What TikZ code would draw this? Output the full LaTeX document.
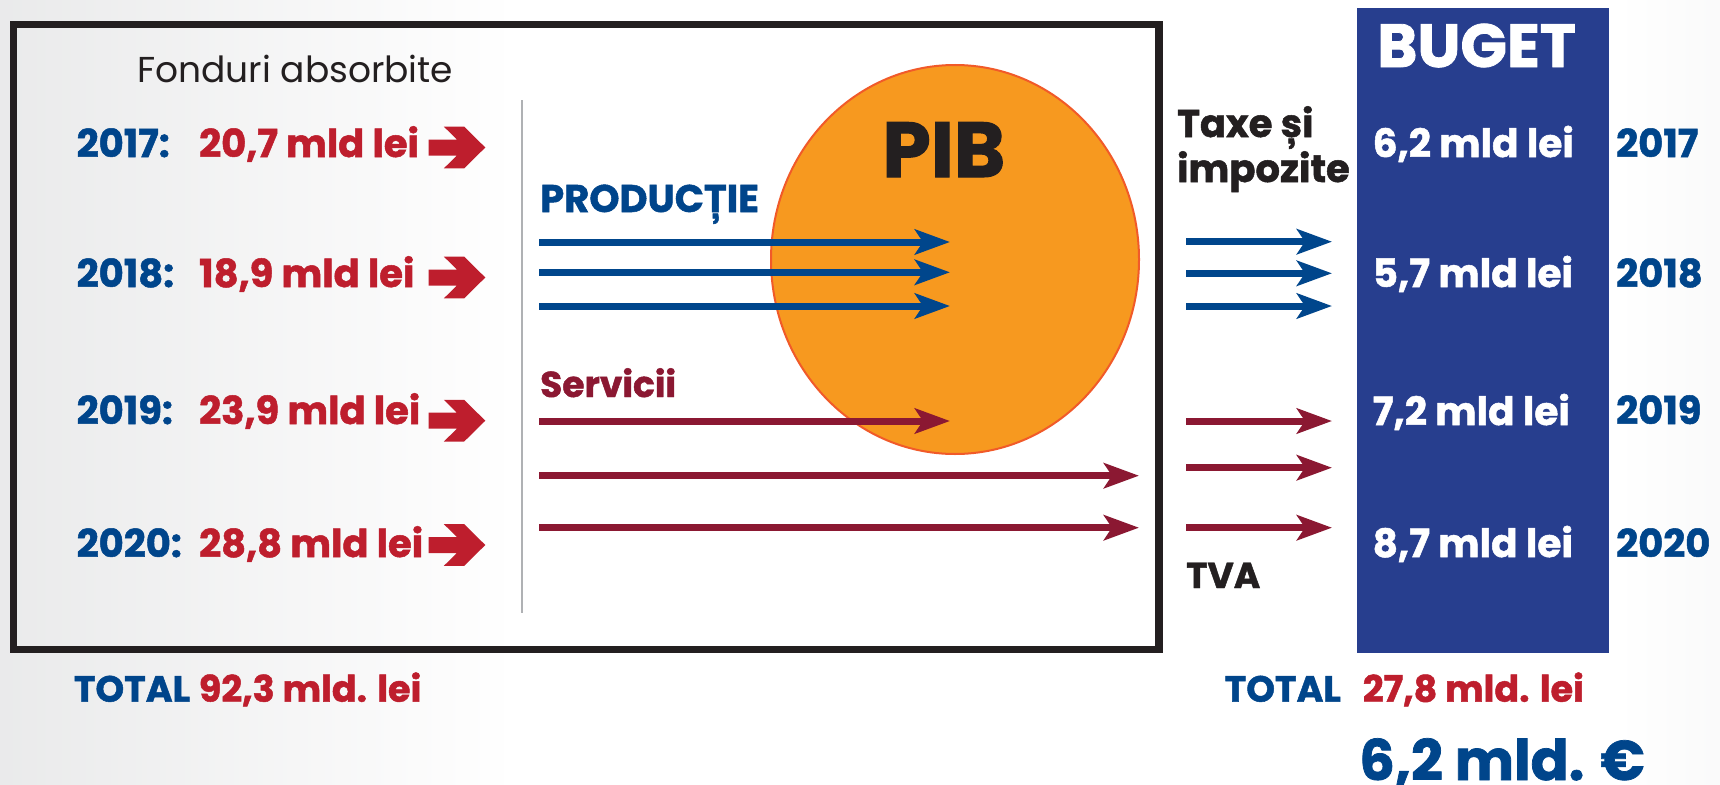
\documentclass[tikz,border=0pt]{standalone}
\usepackage{fontspec}
\newfontfamily\pop{Poppins}[BoldFeatures={FakeBold=1.3}]
\usetikzlibrary{arrows.meta,shapes.geometric}
\definecolor{blueT}{RGB}{0,69,139}
\definecolor{blueA}{RGB}{0,70,140}
\definecolor{boxB}{RGB}{39,62,142}
\definecolor{redT}{RGB}{190,30,45}
\definecolor{maroon}{RGB}{139,24,50}
\definecolor{darkT}{RGB}{35,31,32}
\definecolor{orangeF}{RGB}{247,153,31}
\definecolor{orangeD}{RGB}{241,90,41}
\definecolor{bgL}{RGB}{198,199,201}
\definecolor{bgR}{RGB}{205,206,208}
\definecolor{sepG}{RGB}{175,177,180}
\pgfdeclarehorizontalshading{bgshade}{100bp}{color(0bp)=(bgL); color(40bp)=(white); color(72bp)=(white); color(100bp)=(bgR)}
\tikzset{
  txt/.style={inner sep=0pt, anchor=base west},
  boldf/.style={font=\pop\bfseries\fontsize{#1}{#1}\selectfont},
  yrL/.style={txt, text=blueT, boldf=38.5},
  valL/.style={txt, text=redT, boldf=38.5},
  valW/.style={txt, text=white, boldf=39},
  totB/.style={txt, text=blueT, boldf=36.5},
  totR/.style={txt, text=redT, boldf=36.5},
  barB/.style={draw=blueA, line width=7pt, -{Stealth[length=35pt,width=25pt,inset=8pt]}},
  barM/.style={draw=maroon, line width=7pt, -{Stealth[length=35pt,width=25pt,inset=8pt]}},
  chev/.pic={\fill[redT] (0,-8) -- (28.3,-8) -- (15.3,-20.8) -- (35.6,-20.8) -- (56.7,0) -- (35.6,20.8) -- (15.3,20.8) -- (28.3,8) -- (0,8) -- cycle;}
}
\begin{document}
\begin{tikzpicture}[x=1pt,y=-1pt]
\useasboundingbox (0,0) rectangle (1720,784);
\shade[shading=bgshade] (0,0) rectangle (1720,784);

% blue budget column
\fill[boxB] (1357,8.3) rectangle (1608.7,652.7);

% frame
\draw[darkT, line width=7.5pt] (13.5,24.5) rectangle (1159,649.7);

% separator
\coordinate (vt) at (522,100);
\coordinate (vb) at (522,613);
\draw[sepG, line width=2pt] (vt) -- (vb);

% PIB ellipse
\node[ellipse, draw=orangeD, line width=2pt, fill=orangeF, minimum width=368pt, minimum height=389pt, inner sep=0pt] (pib) at (955,259.5) {};
\node[txt, text=darkT, font=\pop\bfseries\addfontfeature{FakeBold=2.5}\fontsize{78}{78}\selectfont] (pibt) at (882,177) {PIB};

% left column
\node[txt, text=darkT, font=\pop\fontsize{36}{36}\selectfont] (fa) at (137,82) {Fonduri absorbite};
\node[yrL] (l17) at (76.5,157) {2017:};
\node[yrL] (l18) at (76.5,287) {2018:};
\node[yrL] (l19) at (76.5,424) {2019:};
\node[yrL] (l20) at (76.5,557) {2020:};
\node[valL] (v17) at (199,157) {20,7 mld lei};
\node[valL] (v18) at (199,287) {18,9 mld lei};
\node[valL] (v19) at (199,424) {23,9 mld lei};
\node[valL] (v20) at (199,557) {28,8 mld lei};
\pic at (428.6,147.5) {chev};
\pic at (428.6,277.5) {chev};
\pic at (428.6,420.7) {chev};
\pic at (428.6,545) {chev};

% middle
\node[txt, text=blueT, boldf=38.5] (prod) at (540,212) {PRODUCȚIE};
\node[txt, text=maroon, boldf=36] (serv) at (540,397) {Servicii};
\coordinate (pa1) at (539,242); \coordinate (pb1) at (950,242);
\coordinate (pa2) at (539,272.3); \coordinate (pb2) at (950,272.3);
\coordinate (pa3) at (539,306); \coordinate (pb3) at (950,306);
\draw[barB] (pa1) -- (pb1);
\draw[barB] (pa2) -- (pb2);
\draw[barB] (pa3) -- (pb3);
\coordinate (sa1) at (539,421); \coordinate (sb1) at (950,421);
\coordinate (sa2) at (539,475.7); \coordinate (sb2) at (1139,475.7);
\coordinate (sa3) at (539,527.7); \coordinate (sb3) at (1139,527.7);
\draw[barM] (sa1) -- (sb1);
\draw[barM] (sa2) -- (sb2);
\draw[barM] (sa3) -- (sb3);

% right-of-frame
\node[txt, text=darkT, boldf=38.5] (tx1) at (1177,137) {Taxe și};
\node[txt, text=darkT, boldf=38.5] (tx2) at (1177,182) {impozite};
\node[txt, text=darkT, boldf=36] (tva) at (1186,588) {TVA};
\coordinate (ra1) at (1186,241.7); \coordinate (rb1) at (1332,241.7);
\coordinate (ra2) at (1186,273.3); \coordinate (rb2) at (1332,273.3);
\coordinate (ra3) at (1186,306); \coordinate (rb3) at (1332,306);
\draw[barB] (ra1) -- (rb1);
\draw[barB] (ra2) -- (rb2);
\draw[barB] (ra3) -- (rb3);
\coordinate (rm1) at (1186,421); \coordinate (rn1) at (1332,421);
\coordinate (rm2) at (1186,467.7); \coordinate (rn2) at (1332,467.7);
\coordinate (rm3) at (1186,527.7); \coordinate (rn3) at (1332,527.7);
\draw[barM] (rm1) -- (rn1);
\draw[barM] (rm2) -- (rn2);
\draw[barM] (rm3) -- (rn3);

% budget column text
\node[txt, text=white, font=\pop\bfseries\addfontfeature{FakeBold=2.2}\fontsize{61}{61}\selectfont] (buget) at (1377,67) {BUGET};
\node[valW] (b17) at (1372.5,157) {6,2 mld lei};
\node[valW] (b18) at (1372.5,287) {5,7 mld lei};
\node[valW] (b19) at (1372.5,425) {7,2 mld lei};
\node[valW] (b20) at (1372.5,557) {8,7 mld lei};
\node[yrL] (r17) at (1616,157) {2017};
\node[yrL] (r18) at (1616,287) {2018};
\node[yrL] (r19) at (1616,424) {2019};
\node[yrL] (r20) at (1616,557) {2020};

% totals
\node[totB] (tl) at (73.7,701.7) {TOTAL};
\node[totR] (tlv) at (198.7,701.7) {92,3 mld. lei};
\node[totB] (tr) at (1224.5,701.7) {TOTAL};
\node[totR] (trv) at (1362.6,701.7) {27,8 mld. lei};
\node[txt, text=blueT, boldf=56] (eur) at (1359,780) {6,2 mld. €};
\end{tikzpicture}
\end{document}
